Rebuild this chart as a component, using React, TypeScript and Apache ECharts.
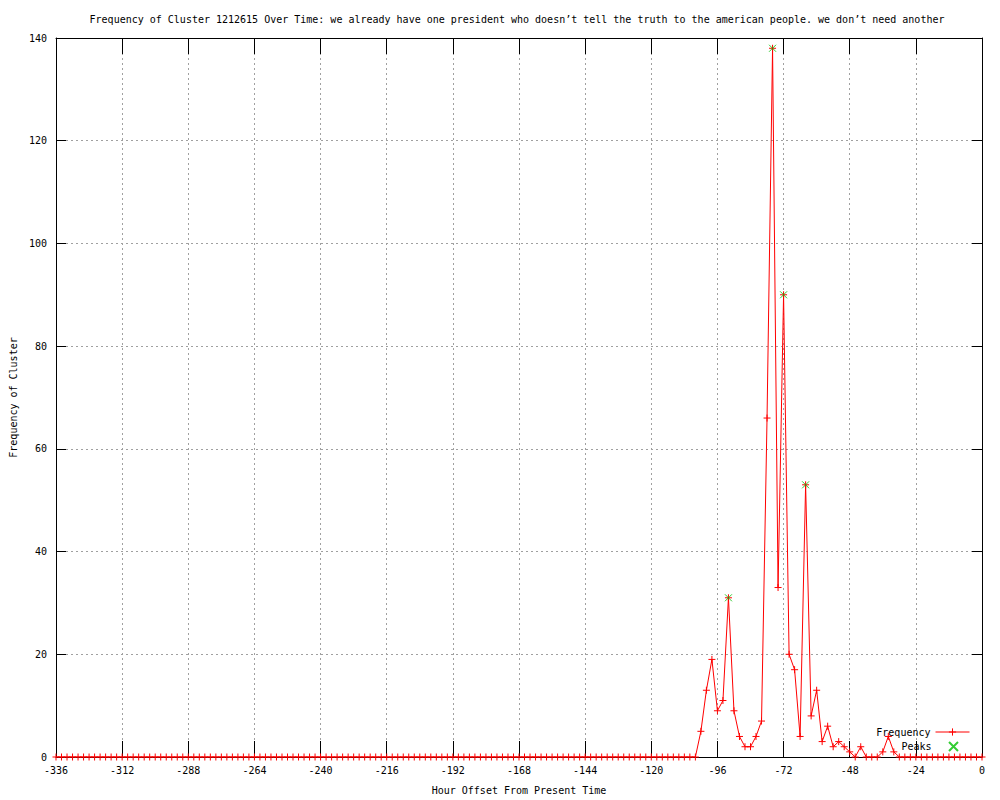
import React, { useEffect, useRef } from "react";
import * as echarts from "echarts";

const TITLE =
  "Frequency of Cluster 1212615 Over Time: we already have one president who doesn’t tell the truth to the american people. we don’t need another";
const X_NAME = "Hour Offset From Present Time";
const Y_NAME = "Frequency of Cluster";

const START_HOUR = -336;
const STEP_HOURS = 2;

// one value every 2 hours, from -336 to 0
const frequency: number[] = [
  0, 0, 0, 0, 0, 0, 0, 0, 0, 0, 0, 0,
  0, 0, 0, 0, 0, 0, 0, 0, 0, 0, 0, 0,
  0, 0, 0, 0, 0, 0, 0, 0, 0, 0, 0, 0,
  0, 0, 0, 0, 0, 0, 0, 0, 0, 0, 0, 0,
  0, 0, 0, 0, 0, 0, 0, 0, 0, 0, 0, 0,
  0, 0, 0, 0, 0, 0, 0, 0, 0, 0, 0, 0,
  0, 0, 0, 0, 0, 0, 0, 0, 0, 0, 0, 0,
  0, 0, 0, 0, 0, 0, 0, 0, 0, 0, 0, 0,
  0, 0, 0, 0, 0, 0, 0, 0, 0, 0, 0, 0,
  0, 0, 0, 0, 0, 0, 0, 0,
  0, 5, 13, 19, 9, 11, 31, 9, 4, 2, 2, 4,
  7, 66, 138, 33, 90, 20, 17, 4, 53, 8, 13, 3,
  6, 2, 3, 2, 1, 0, 2, 0, 0, 0, 1, 4,
  1, 0, 0, 0, 0, 0, 0, 0, 0, 0, 0, 0,
  0, 0, 0, 0, 0,
];

const peakHours: number[] = [-92, -76, -72, -64];
const peakValues: number[] = [31, 138, 90, 53];

const xTicks = { min: -336, max: 0, interval: 24 };
const yTicks = { min: 0, max: 140, interval: 20 };

const FONT = "DejaVu Sans Mono";
const RED = "#ff0000";
const GREEN = "#00c000";
const PLUS = "path://M0,5L10,5M5,0L5,10";
const CROSS = "path://M0,0L10,10M10,0L0,10";

export default function App() {
  const ref = useRef<HTMLDivElement>(null);

  useEffect(() => {
    if (!ref.current) return;
    const chart = echarts.init(ref.current, null, { renderer: "svg" });

    const freqData = frequency.map((v, i) => [START_HOUR + i * STEP_HOURS, v]);
    const peakData = peakHours.map((h, i) => [h, peakValues[i]]);

    const axisLine = { show: true, onZero: false, lineStyle: { color: "#000", width: 1 } };
    const gridLine = { show: true, lineStyle: { color: "#a0a0a0", type: [2, 3], width: 1 } };
    const labelStyle = { fontFamily: FONT, fontSize: 10, color: "#000" };

    chart.setOption({
      animation: false,
      backgroundColor: "#fff",
      title: {
        text: TITLE,
        left: 517,
        top: 14,
        padding: 0,
        textAlign: "center",
        textStyle: { fontFamily: FONT, fontSize: 10, fontWeight: "normal", color: "#000" },
      },
      grid: { left: 55, right: 18, top: 38, bottom: 40 },
      legend: [
        {
          data: ["Frequency"],
          right: 30,
          top: 727,
          padding: 0,
          orient: "vertical",
          align: "right",
          itemWidth: 34,
          itemHeight: 9,
          itemGap: 5,
          lineStyle: { width: 1 },
          itemStyle: { borderWidth: 1 },
          textStyle: labelStyle,
        },
        {
          data: ["Peaks"],
          right: 41,
          top: 741,
          padding: 0,
          orient: "vertical",
          align: "right",
          itemWidth: 34,
          itemHeight: 9,
          itemGap: 5,
          textStyle: labelStyle,
        },
      ],
      xAxis: [
        {
          type: "value",
          ...xTicks,
          name: X_NAME,
          nameLocation: "middle",
          nameGap: 28,
          nameTextStyle: labelStyle,
          axisLine,
          axisTick: { show: true, inside: true, length: 16, lineStyle: { color: "#000" } },
          axisLabel: { ...labelStyle, margin: 8 },
          splitLine: gridLine,
        },
        {
          type: "value",
          ...xTicks,
          position: "top",
          axisLine,
          axisTick: { show: true, inside: true, length: 16, lineStyle: { color: "#000" } },
          axisLabel: { show: false },
          splitLine: { show: false },
        },
      ],
      yAxis: [
        {
          type: "value",
          ...yTicks,
          name: Y_NAME,
          nameLocation: "middle",
          nameGap: 38,
          nameTextStyle: labelStyle,
          axisLine,
          axisTick: { show: true, inside: true, length: 10, lineStyle: { color: "#000" } },
          axisLabel: { ...labelStyle, margin: 9 },
          splitLine: gridLine,
        },
        {
          type: "value",
          ...yTicks,
          position: "right",
          axisLine,
          axisTick: { show: true, inside: true, length: 10, lineStyle: { color: "#000" } },
          axisLabel: { show: false },
          splitLine: { show: false },
        },
      ],
      series: [
        {
          name: "Frequency",
          type: "line",
          data: freqData,
          symbol: PLUS,
          symbolSize: 7,
          showAllSymbol: true,
          lineStyle: { color: RED, width: 1 },
          itemStyle: { color: RED, borderColor: RED, borderWidth: 1 },
          z: 2,
        },
        {
          name: "Peaks",
          type: "scatter",
          data: peakData,
          symbol: CROSS,
          symbolSize: 7,
          itemStyle: { color: GREEN, borderColor: GREEN, borderWidth: 1 },
          z: 3,
        },
      ],
    });

    return () => chart.dispose();
  }, []);

  return (
    <div
      ref={ref}
      style={{ position: "fixed", left: 0, top: 0, width: 1000, height: 800 }}
    />
  );
}
